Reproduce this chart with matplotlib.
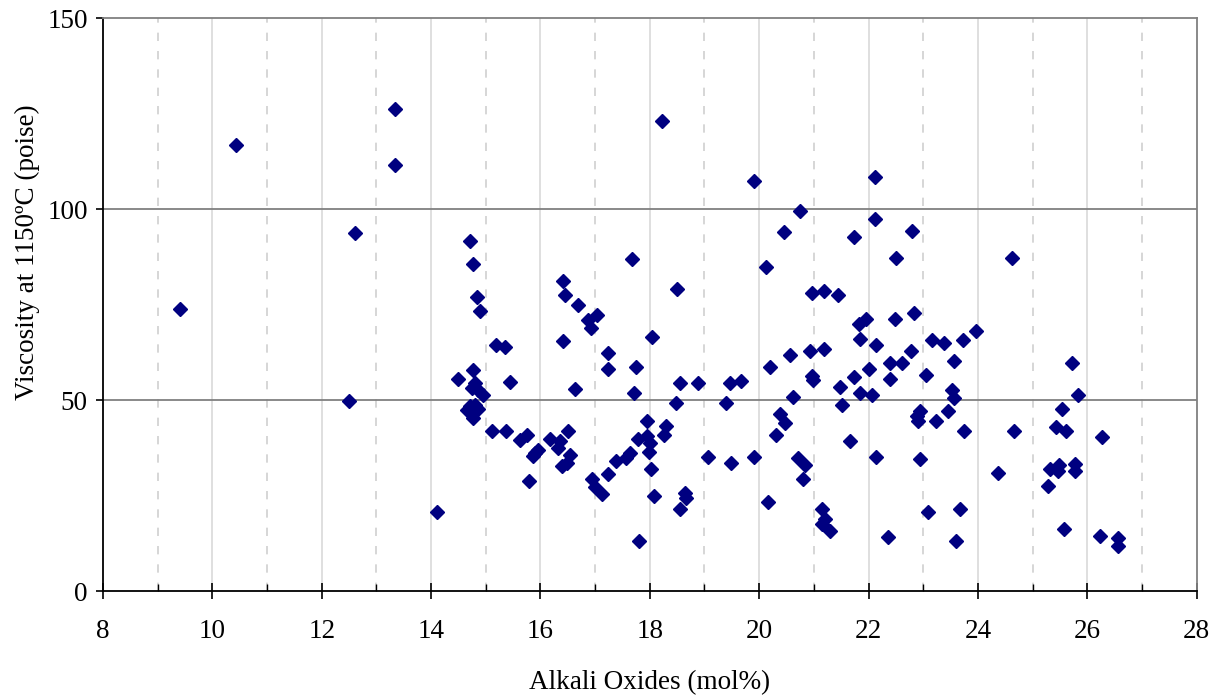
import matplotlib
matplotlib.use('Agg')
import matplotlib.pyplot as plt
from matplotlib.ticker import MultipleLocator

# Alkali oxides (mol%) vs viscosity at 1150 C (poise)
alkali = [9.41, 10.44, 12.60, 12.49, 13.34, 13.34, 14.72, 14.10,
          14.76, 14.84, 14.90, 15.19, 15.35, 14.50, 14.76, 14.80, 14.74, 14.86,
          14.94, 15.45, 14.71, 14.80, 14.65, 14.86, 14.76, 15.12, 15.37, 15.62,
          15.75, 15.90, 15.87, 15.95, 15.79, 16.17, 16.35, 16.32, 16.51, 16.54,
          16.39, 16.48, 16.41, 16.45, 16.69, 16.87, 17.03, 16.92, 16.41, 16.63,
          17.24, 17.24, 17.68, 18.49, 18.04, 17.75, 17.71, 16.95, 16.99, 17.13,
          17.24, 17.39, 17.56, 17.63, 17.80, 17.94, 17.79, 17.94, 18.00, 17.99,
          18.02, 18.08, 18.30, 18.26, 18.48, 18.55, 18.88, 18.64, 18.67, 18.55,
          19.07, 19.40, 19.46, 19.66, 19.48, 19.91, 20.13, 20.20, 20.16, 20.31,
          20.38, 20.47, 20.57, 20.61, 20.71, 20.83, 20.81, 20.96, 21.19, 21.44,
          20.93, 21.19, 20.97, 20.99, 21.47, 21.52, 21.67, 21.14, 21.20, 21.14,
          21.29, 18.23, 19.91, 20.75, 20.46, 22.11, 22.11, 21.74, 22.80, 22.51,
          24.62, 21.82, 21.96, 22.49, 22.84, 21.85, 22.14, 23.16, 23.38, 23.72,
          23.97, 22.77, 22.39, 22.61, 23.56, 22.00, 21.74, 22.40, 23.06, 21.85,
          22.06, 23.53, 23.56, 25.72, 25.83, 22.94, 22.88, 22.91, 23.46, 23.24,
          23.75, 24.66, 25.54, 25.42, 25.61, 26.27, 22.14, 22.95, 24.37, 25.31,
          25.49, 25.46, 25.77, 25.77, 25.28, 23.09, 23.68, 22.36, 23.60, 25.57,
          26.24, 26.56, 26.56]
viscosity = [74.0, 116.8, 93.7, 49.8, 126.3, 111.6, 91.7, 20.9,
             85.6, 77.0, 73.3, 64.4, 63.9, 55.6, 57.9, 54.6, 53.3, 52.8,
             51.3, 54.7, 48.4, 48.9, 47.6, 47.8, 45.4, 41.9, 41.9, 39.6,
             41.0, 36.2, 35.5, 37.0, 28.8, 39.9, 39.3, 37.5, 41.9, 35.8,
             32.9, 33.6, 81.2, 77.5, 74.9, 71.0, 72.3, 69.0, 65.5, 53.0,
             62.3, 58.2, 86.9, 79.0, 66.5, 58.8, 51.8, 29.4, 27.3, 25.6,
             30.8, 34.0, 34.9, 36.2, 13.1, 44.5, 39.9, 40.6, 38.8, 36.4,
             32.0, 25.1, 43.2, 40.8, 49.3, 54.6, 54.6, 25.7, 24.4, 21.5,
             35.2, 49.3, 54.6, 55.0, 33.6, 35.2, 85.0, 58.8, 23.5, 40.9,
             46.4, 44.1, 61.9, 50.8, 34.9, 33.2, 29.4, 78.1, 78.5, 77.5,
             62.9, 63.5, 56.3, 55.4, 53.5, 48.7, 39.3, 21.5, 18.9, 17.7,
             15.7, 123.1, 107.4, 99.6, 93.9, 108.5, 97.4, 92.7, 94.3, 87.1,
             87.1, 69.9, 71.3, 71.2, 72.9, 66.1, 64.4, 65.7, 65.1, 65.7,
             68.1, 63.0, 59.8, 59.8, 60.2, 58.2, 56.1, 55.6, 56.6, 51.9,
             51.3, 52.8, 50.6, 59.8, 51.3, 47.1, 45.8, 44.5, 47.1, 44.5,
             41.9, 41.9, 47.8, 43.0, 41.9, 40.3, 35.1, 34.7, 31.0, 32.0,
             33.2, 31.4, 33.4, 31.4, 27.7, 20.9, 21.5, 14.2, 13.1, 16.3,
             14.6, 13.9, 12.0]

plt.rcParams['font.family'] = ['Liberation Serif', 'DejaVu Serif']

fig = plt.figure(figsize=(12.21, 6.98), dpi=100)
ax = fig.add_axes([0.0844, 0.1526, 0.8956, 0.8216])

# grid: solid at even x, dashed at odd x, solid grey at y = 50, 100
for xv in range(10, 28, 2):
    ax.axvline(xv, color='#d9d9d9', lw=1.2, zorder=0)
for xv in range(9, 28, 2):
    ax.axvline(xv, color='#d0d0d0', lw=1.2, ls=(0, (5, 6)), zorder=0)
for yv in (50, 100):
    ax.axhline(yv, color='#808080', lw=1.3, zorder=1)

ax.plot(alkali, viscosity, ls='none', marker='D', ms=7.6,
        color='#000080', mec='#000080', zorder=3)

ax.set_xlim(8, 28)
ax.set_ylim(0, 150)
ax.xaxis.set_major_locator(MultipleLocator(2))
ax.xaxis.set_minor_locator(MultipleLocator(1))
ax.yaxis.set_major_locator(MultipleLocator(50))

ax.tick_params(axis='x', which='major', direction='inout', length=11, width=1.2,
               labelsize=19.5, pad=14)
ax.tick_params(axis='x', which='minor', direction='in', length=5, width=1.0)
ax.tick_params(axis='y', which='major', direction='out', length=5, width=1.2,
               labelsize=19.5, pad=6)

for s in ('top', 'right'):
    ax.spines[s].set_color('#808080')
    ax.spines[s].set_linewidth(1.3)
for s in ('left', 'bottom'):
    ax.spines[s].set_color('black')
    ax.spines[s].set_linewidth(1.3)

ax.set_xlabel('Alkali Oxides (mol%)', fontsize=19.5, labelpad=19)
ax.set_ylabel('Viscosity at 1150ºC (poise)', fontsize=19.5)
ax.yaxis.set_label_coords(-0.058, 0.592)

fig.savefig('out.png', dpi=100)
